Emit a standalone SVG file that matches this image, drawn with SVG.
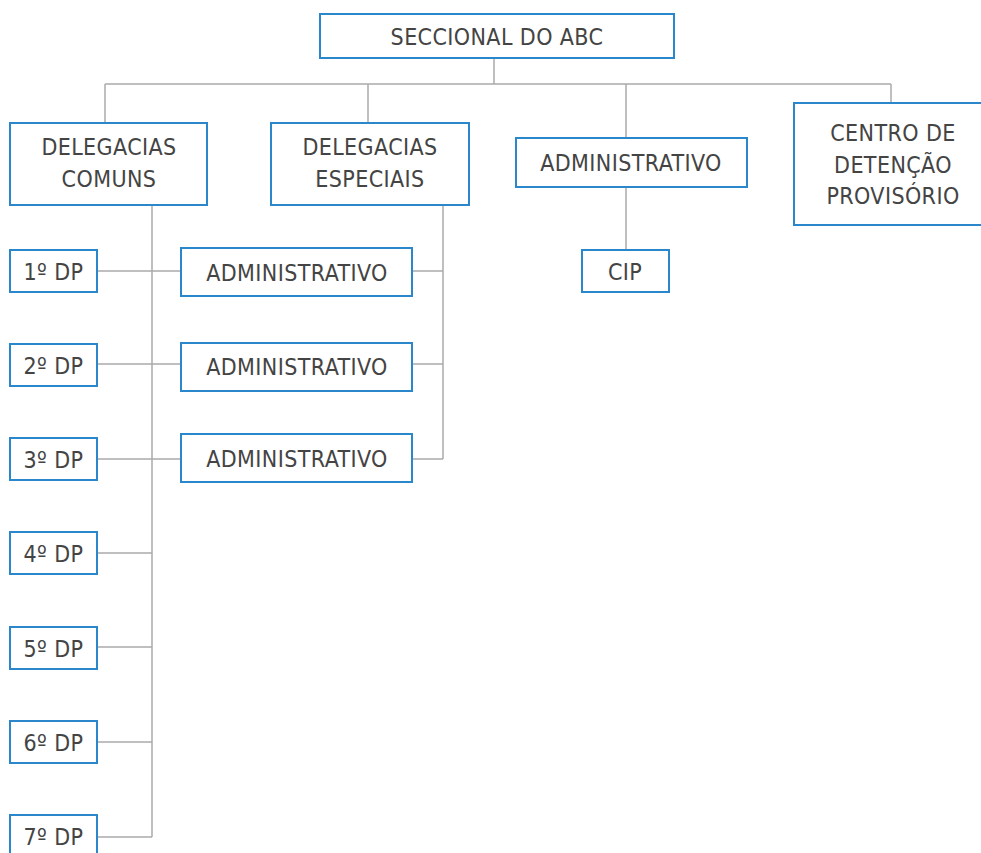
<svg xmlns="http://www.w3.org/2000/svg" width="981" height="853" viewBox="0 0 981 853">
<style>
.box{fill:#fff;stroke:#2b87cc;stroke-width:2}
.t{font-family:"DejaVu Sans Condensed","DejaVu Sans",sans-serif;font-size:23px;fill:#444;text-anchor:middle;letter-spacing:0.4px}
.c{fill:none;stroke:#aaa;stroke-width:1.5}
</style>
<rect width="981" height="853" fill="#fff"/>
<g id="connectors" class="c">
<path d="M494 58V84M105 84H891M105 84V123M368 84V123M626 84V138M891 84V103"/>
<path d="M626 187V250"/>
<path d="M152 205V837M97 271H181M97 364H181M97 459H181M97 553H152M97 647H152M97 742H152M97 837H152"/>
<path d="M443 205V459M412 271H443M412 364H443M412 459H443"/>
</g>
<g id="seccional"><rect class="box" x="320" y="14" width="354" height="44"/><text class="t" x="497" y="45">SECCIONAL DO ABC</text></g>
<g id="comuns"><rect class="box" x="10" y="123" width="197" height="82"/><text class="t" x="109" y="155">DELEGACIAS</text><text class="t" x="109" y="187">COMUNS</text></g>
<g id="especiais"><rect class="box" x="271" y="123" width="198" height="82"/><text class="t" x="370" y="155">DELEGACIAS</text><text class="t" x="370" y="187">ESPECIAIS</text></g>
<g id="administrativo"><rect class="box" x="516" y="138" width="231" height="49"/><text class="t" x="631" y="171">ADMINISTRATIVO</text></g>
<g id="cip"><rect class="box" x="582" y="250" width="87" height="42"/><text class="t" x="625" y="280">CIP</text></g>
<g id="centro"><rect class="box" x="794" y="103" width="198" height="122"/><text class="t" x="893" y="141">CENTRO DE</text><text class="t" x="893" y="172.5">DETENÇÃO</text><text class="t" x="893" y="204">PROVISÓRIO</text></g>
<g id="adm1"><rect class="box" x="181" y="248" width="231" height="48"/><text class="t" x="297" y="281">ADMINISTRATIVO</text></g>
<g id="adm2"><rect class="box" x="181" y="343" width="231" height="48"/><text class="t" x="297" y="375">ADMINISTRATIVO</text></g>
<g id="adm3"><rect class="box" x="181" y="434" width="231" height="48"/><text class="t" x="297" y="467">ADMINISTRATIVO</text></g>
<g id="dp1"><rect class="box" x="10" y="250" width="87" height="42"/><text class="t" x="53.5" y="280">1º DP</text></g>
<g id="dp2"><rect class="box" x="10" y="344" width="87" height="42"/><text class="t" x="53.5" y="374">2º DP</text></g>
<g id="dp3"><rect class="box" x="10" y="438" width="87" height="42"/><text class="t" x="53.5" y="468">3º DP</text></g>
<g id="dp4"><rect class="box" x="10" y="532" width="87" height="42"/><text class="t" x="53.5" y="562">4º DP</text></g>
<g id="dp5"><rect class="box" x="10" y="627" width="87" height="42"/><text class="t" x="53.5" y="657">5º DP</text></g>
<g id="dp6"><rect class="box" x="10" y="721" width="87" height="42"/><text class="t" x="53.5" y="751">6º DP</text></g>
<g id="dp7"><rect class="box" x="10" y="815" width="87" height="42"/><text class="t" x="53.5" y="845">7º DP</text></g>
</svg>
